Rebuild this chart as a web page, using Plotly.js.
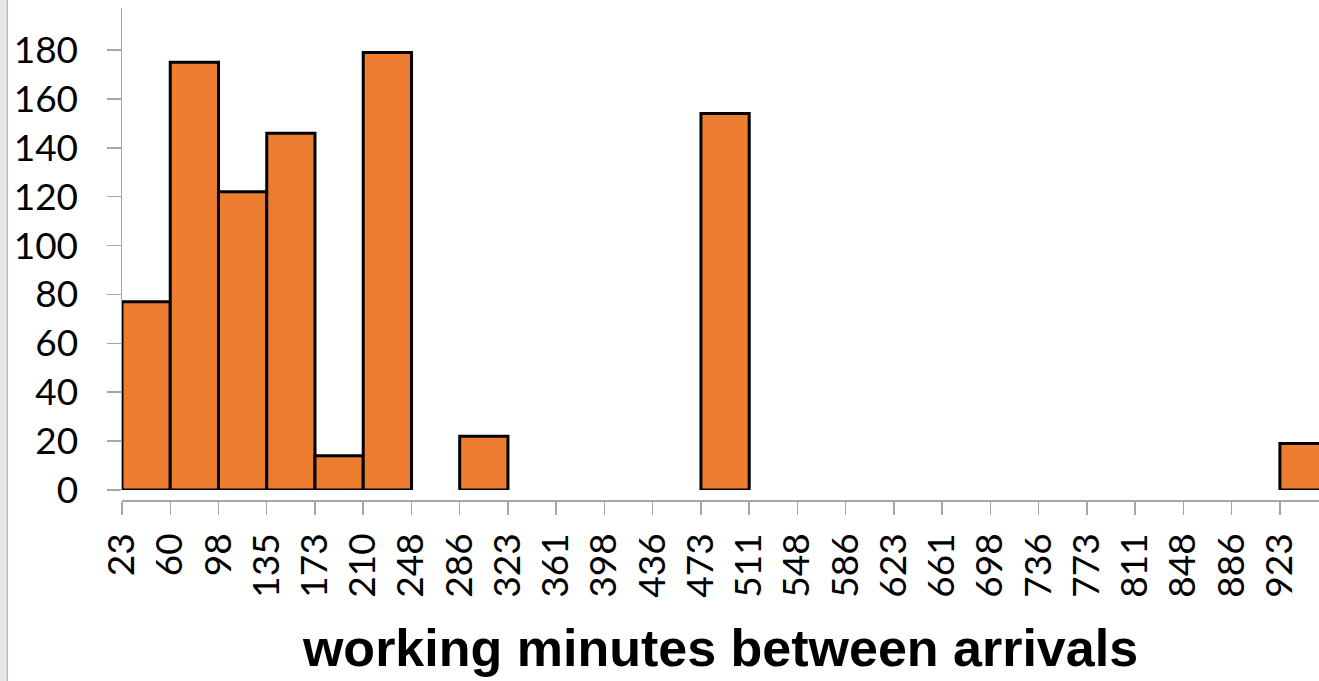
<!DOCTYPE html>
<html>
<head>
<meta charset="utf-8">
<script src="https://cdn.plot.ly/plotly-3.0.1.min.js"></script>
<style>
  html, body { margin: 0; padding: 0; background: #ffffff; }
  #chart { width: 1319px; height: 681px; }
</style>
</head>
<body>
<div id="chart"></div>
<script>
// Bin start edges (working minutes) of the histogram
const binStarts = [23, 60.5, 98, 135.5, 173, 210.5, 248, 285.5, 323, 360.5, 398, 435.5, 473,
                   510.5, 548, 585.5, 623, 660.5, 698, 735.5, 773, 810.5, 848, 885.5, 923];
// Tick labels shown at each bin edge
const tickLabels = ["23", "60", "98", "135", "173", "210", "248", "286", "323", "361", "398", "436", "473",
                    "511", "548", "586", "623", "661", "698", "736", "773", "811", "848", "886", "923"];
// Counts per bin
const counts = [77, 175, 122, 146, 14, 179, 0, 22, 0, 0, 0, 0, 154,
                0, 0, 0, 0, 0, 0, 0, 0, 0, 0, 0, 19];

const xTitle = "working minutes between arrivals";

const trace = {
  type: "bar",
  x: binStarts,
  // empty bins are left undrawn (no outline on the baseline)
  y: counts.map(v => (v === 0 ? null : v)),
  offset: 0,
  width: 37.5,
  marker: { color: "#ED7D31", line: { color: "#000000", width: 3 } },
  hoverinfo: "x+y"
};

const layout = {
  width: 1319,
  height: 681,
  margin: { l: 122, r: 0, t: 8, b: 181 },
  paper_bgcolor: "#ffffff",
  plot_bgcolor: "#ffffff",
  bargap: 0,
  showlegend: false,
  font: { family: "Lato, 'Liberation Sans', sans-serif", color: "#000000" },
  xaxis: {
    range: [23, 953.4],
    tickmode: "array",
    tickvals: binStarts,
    ticktext: tickLabels,
    tickangle: -90,
    ticks: "outside",
    ticklen: 13,
    tickwidth: 1.5,
    tickcolor: "#a6a6a6",
    ticklabelstandoff: 4,
    tickfont: { family: "Lato, sans-serif", size: 37, color: "#000000" },
    showline: true,
    linecolor: "#a6a6a6",
    linewidth: 1.5,
    showgrid: false,
    zeroline: false,
    anchor: "free",
    position: 0,
    title: {
      text: "<b>" + xTitle + "</b>",
      font: { family: "'Liberation Sans', Arial, sans-serif", size: 52, color: "#000000" },
      standoff: 33
    },
    fixedrange: true
  },
  yaxis: {
    domain: [0.0203, 1],
    range: [0, 197.2],
    tick0: 0,
    dtick: 20,
    ticks: "outside",
    ticklen: 14,
    tickwidth: 1.5,
    tickcolor: "#a6a6a6",
    ticklabelstandoff: 21,
    tickfont: { family: "Lato, sans-serif", size: 37, color: "#000000" },
    showline: true,
    linecolor: "#a6a6a6",
    linewidth: 1.5,
    showgrid: false,
    zeroline: false,
    fixedrange: true
  },
  shapes: [
    { type: "rect", xref: "paper", yref: "paper", x0: -0.1019, x1: -0.0961, y0: -0.4, y1: 1.02,
      fillcolor: "#e6e6e6", line: { width: 0 }, layer: "below" },
    { type: "line", xref: "paper", yref: "paper", x0: -0.0958, x1: -0.0958, y0: -0.4, y1: 1.02,
      line: { color: "#b8b8b8", width: 1.5 } }
  ]
};

Plotly.newPlot("chart", [trace], layout, { displayModeBar: false, staticPlot: true });
</script>
</body>
</html>
